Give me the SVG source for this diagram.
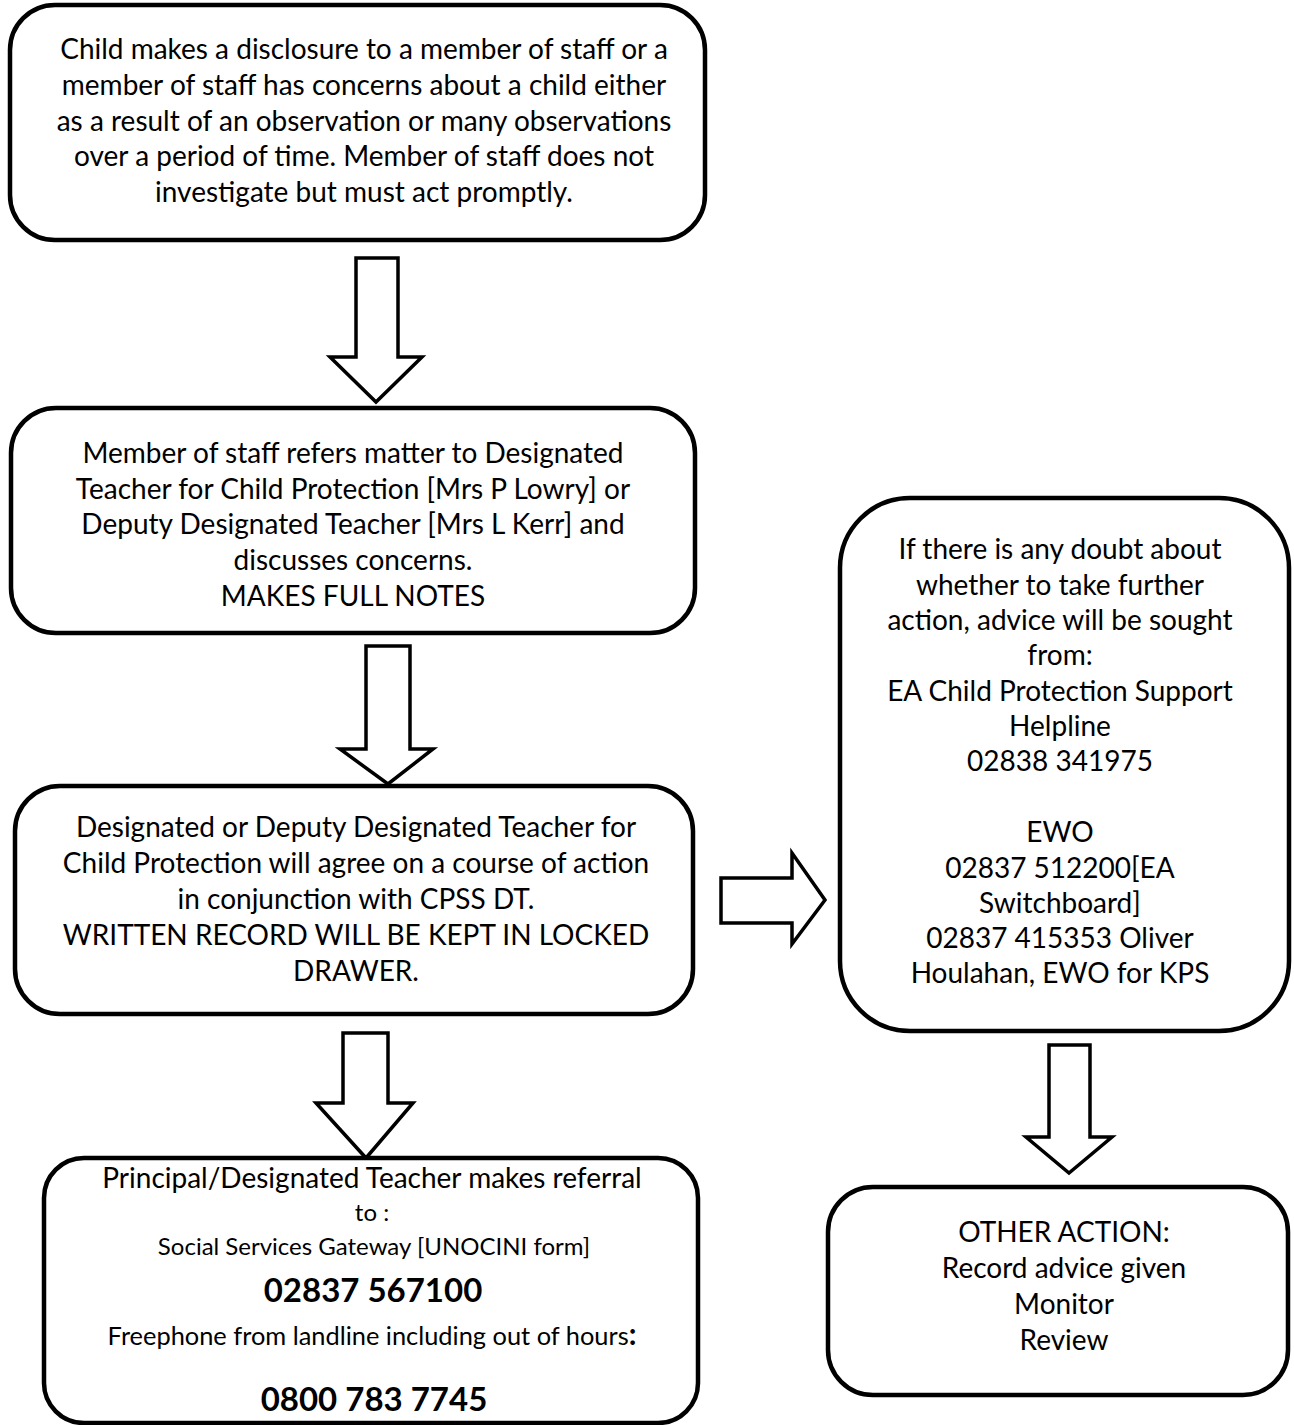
<svg xmlns="http://www.w3.org/2000/svg" width="1294" height="1425" viewBox="0 0 1294 1425">
<style>
.box{fill:#fff;stroke:#000;stroke-width:4.5}
.arr{fill:#fff;stroke:#000;stroke-width:3.5;stroke-linejoin:miter}
text{font-family:Lato,"Liberation Sans",sans-serif;fill:#000;text-anchor:middle}
.t{font-size:28px}
.s{font-size:24px}
.m{font-size:25.4px}
.b{font-size:33px;font-weight:bold}
</style>
<rect width="1294" height="1425" fill="#fff"/>
<g id="connectors">
<polygon class="arr" points="356,258 398,258 398,357 422,357 376,402 330,357 356,357"/>
<polygon class="arr" points="366,646 410,646 410,749 433,749 388,784 340,749 366,749"/>
<polygon class="arr" points="343,1033 388,1033 388,1103 413,1103 366,1158 316,1103 343,1103"/>
<polygon class="arr" points="721,878 792,878 792,853 825,900 792,944 792,923 721,923"/>
<polygon class="arr" points="1049,1045 1090,1045 1090,1137 1112,1137 1069,1173 1026,1137 1049,1137"/>
</g>
<g id="node1">
<rect class="box" x="10" y="5" width="695" height="235" rx="45"/>
<text class="t" x="364" y="59">Child makes a disclosure to a member of staff or a</text>
<text class="t" x="364" y="95">member of staff has concerns about a child either</text>
<text class="t" x="364" y="131">as a result of an observation or many observations</text>
<text class="t" x="364" y="166">over a period of time. Member of staff does not</text>
<text class="t" x="364" y="202">investigate but must act promptly.</text>
</g>
<g id="node2">
<rect class="box" x="11" y="408" width="684" height="225" rx="45"/>
<text class="t" x="353" y="463">Member of staff refers matter to Designated</text>
<text class="t" x="353" y="499">Teacher for Child Protection [Mrs P Lowry] or</text>
<text class="t" x="353" y="534">Deputy Designated Teacher [Mrs L Kerr] and</text>
<text class="t" x="353" y="570">discusses concerns.</text>
<text class="t" x="353" y="606">MAKES FULL NOTES</text>
</g>
<g id="node3">
<rect class="box" x="15" y="786" width="678" height="228" rx="45"/>
<text class="t" x="356" y="837">Designated or Deputy Designated Teacher for</text>
<text class="t" x="356" y="873">Child Protection will agree on a course of action</text>
<text class="t" x="356" y="909">in conjunction with CPSS DT.</text>
<text class="t" x="356" y="945">WRITTEN RECORD WILL BE KEPT IN LOCKED</text>
<text class="t" x="356" y="981">DRAWER.</text>
</g>
<g id="node4">
<rect class="box" x="44" y="1158" width="654" height="265" rx="40"/>
<text class="t" x="372" y="1188">Principal/Designated Teacher makes referral</text>
<text class="s" x="372" y="1221">to :</text>
<text class="s" x="374" y="1255">Social Services Gateway [UNOCINI form]</text>
<text class="b" x="373" y="1302">02837 567100</text>
<text class="m" x="372" y="1345">Freephone from landline including out of hours<tspan font-weight="bold" font-size="30px">:</tspan></text>
<text class="b" x="374" y="1411">0800 783 7745</text>
</g>
<g id="node5">
<rect class="box" x="840" y="498" width="449" height="533" rx="70"/>
<text class="t" x="1060" y="559">If there is any doubt about</text>
<text class="t" x="1060" y="595">whether to take further</text>
<text class="t" x="1060" y="630">action, advice will be sought</text>
<text class="t" x="1060" y="665">from:</text>
<text class="t" x="1060" y="701">EA Child Protection Support</text>
<text class="t" x="1060" y="736">Helpline</text>
<text class="t" x="1060" y="771">02838 341975</text>
<text class="t" x="1060" y="842">EWO</text>
<text class="t" x="1060" y="878">02837 512200[EA</text>
<text class="t" x="1060" y="913">Switchboard]</text>
<text class="t" x="1060" y="948">02837 415353 Oliver</text>
<text class="t" x="1060" y="983">Houlahan, EWO for KPS</text>
</g>
<g id="node6">
<rect class="box" x="828" y="1187" width="460" height="208" rx="45"/>
<text class="t" x="1064" y="1242">OTHER ACTION:</text>
<text class="t" x="1064" y="1278">Record advice given</text>
<text class="t" x="1064" y="1314">Monitor</text>
<text class="t" x="1064" y="1350">Review</text>
</g>
</svg>
